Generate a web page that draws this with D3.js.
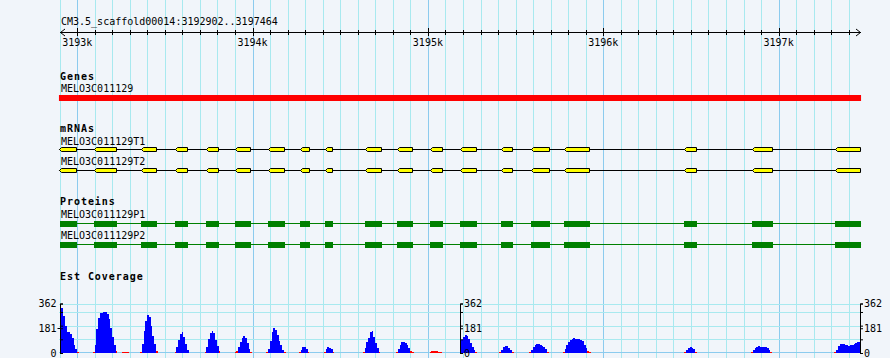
<!DOCTYPE html>
<html><head><meta charset="utf-8">
<script src="https://cdn.jsdelivr.net/npm/d3@7"></script>
<style>
html,body{margin:0;padding:0;background:#f1f5fa;}
svg{display:block;}
text{font-family:"DejaVu Sans Mono",monospace;font-size:10px;fill:#000;}
.bold{font-weight:bold;letter-spacing:0.95px;}
</style></head><body>
<svg id="c" width="890" height="358"></svg>
<script>
// ---------- data ----------
const seqName = "CM3.5_scaffold00014";
const regionStart = 3192902, regionEnd = 3197464;
const gridStart = 3192900, gridStep = 100;
const rulerMajor = [3193000, 3194000, 3195000, 3196000, 3197000];
const rulerLabels = ["3193k", "3194k", "3195k", "3196k", "3197k"];
const trackNames = ["Genes", "mRNAs", "Proteins", "Est Coverage"];
const geneName = "MELO3C011129";
const geneSpan = [3192896, 3197470];
const mrnaNames = ["MELO3C011129T1", "MELO3C011129T2"];
const proteinNames = ["MELO3C011129P1", "MELO3C011129P2"];
const exonStarts = [3192896, 3193095, 3193362, 3193556, 3193733, 3193899, 3194088, 3194269, 3194411, 3194639,
                    3194826, 3195010, 3195181, 3195415, 3195588, 3195775, 3196458, 3196846, 3197319];
const exonEnds   = [3192998, 3193225, 3193453, 3193631, 3193807, 3193990, 3194183, 3194327, 3194458, 3194737,
                    3194914, 3195085, 3195279, 3195485, 3195695, 3195924, 3196534, 3196967, 3197470];
// EST coverage: each run starts at a position and has one value per 10 bp
const covStep = 10;
const covStarts = [3192902, 3193092, 3193261, 3193362, 3193558, 3193729, 3193900, 3194081, 3194267, 3194409,
                   3194632, 3194822, 3195012, 3195183, 3195411, 3195582, 3195772, 3196466, 3196846, 3197321];
const covValues = [
  [355,330,268,195,155,157,142,112,62,28,8],
  [10,60,172,258,290,296,300,298,285,250,185,120,60,12],
  [6,8,8,6],
  [10,68,160,237,276,265,200,125,65,15],
  [5,45,95,140,152,120,65,20],
  [5,45,100,145,163,145,95,50,15],
  [5,18,42,80,110,126,110,75,30,8],
  [5,30,90,150,180,170,135,90,55,25,8],
  [5,25,42,42,28,6],
  [5,30,42,40,30,6],
  [5,40,78,110,150,160,115,70,35,10],
  [5,30,60,78,84,74,55,35,18,5],
  [6,12,16,18,16,10,4],
  [60,95,120,128,122,100,75,45,22,6],
  [5,25,45,54,50,38,22,6],
  [5,22,45,60,66,65,60,52,42,28,8],
  [5,28,55,80,95,104,108,106,100,100,96,85,62,38,18,6],
  [5,22,36,42,40,28,6],
  [5,22,38,46,49,47,44,44,42,38,22,6],
  [5,25,48,64,66,64,58,55,54,55,58,64,72,82,84]
];
const covMax = 362;
const covPivot = 20;
const covLabelTicks = [0, 181, 362];
const covMinorTicks = [100, 200, 300];

// ---------- drawing ----------
const svg = d3.select("#c");
const x = d3.scaleLinear().domain([regionStart, regionEnd]).range([60, 860]);
const px = v => Math.round(x(v)) + 0.5;

// vertical grid
const gridPos = d3.range(gridStart, regionEnd + 1, gridStep);
svg.append("g").selectAll("line").data(gridPos).join("line")
  .attr("x1", px).attr("x2", px).attr("y1", 0).attr("y2", 358)
  .attr("stroke", d => d % 1000 === 0 ? "#8ccbee" : "#a8e9ef").attr("stroke-width", 1);

// title
svg.append("text").attr("x", 61).attr("y", 25).text(`${seqName}:${regionStart}..${regionEnd}`);

// ruler
const r = svg.append("g");
const ry = 32.5;
r.append("line").attr("x1", 60).attr("x2", 861).attr("y1", ry).attr("y2", ry).attr("stroke", "#000");
r.append("path").attr("d", `M65,29L60.5,${ry}L65,36`).attr("fill", "none").attr("stroke", "#000");
r.append("path").attr("d", `M856,29L860.5,${ry}L856,36`).attr("fill", "none").attr("stroke", "#000");
r.selectAll("line.minor").data(gridPos.filter(d => d >= regionStart)).join("line").attr("class", "minor")
  .attr("x1", px).attr("x2", px)
  .attr("y1", d => d % 1000 === 0 ? 28 : 30).attr("y2", d => d % 1000 === 0 ? 36 : 35)
  .attr("stroke", "#000");
r.selectAll("text").data(rulerMajor).join("text")
  .attr("x", d => x(d)).attr("y", 45.5).attr("text-anchor", "middle")
  .text((d, i) => rulerLabels[i]);

// Genes track
svg.append("text").attr("class", "bold").attr("x", 60).attr("y", 79.5).text(trackNames[0]);
svg.append("text").attr("x", 61).attr("y", 92).text(geneName);
svg.append("rect").attr("x", x(geneSpan[0])).attr("y", 95)
  .attr("width", x(geneSpan[1]) - x(geneSpan[0])).attr("height", 6).attr("fill", "#ff0000");

// mRNAs track
svg.append("text").attr("class", "bold").attr("x", 60).attr("y", 132).text(trackNames[1]);
const exons = exonStarts.map((s, i) => ({s, e: exonEnds[i]}));
mrnaNames.forEach((name, k) => {
  const cy = 149.5 + k * 21;
  svg.append("text").attr("x", 61).attr("y", 144.5 + k * 20.5).text(name);
  svg.append("line").attr("x1", x(exonStarts[0])).attr("x2", x(exonEnds[exonEnds.length - 1]))
    .attr("y1", cy).attr("y2", cy).attr("stroke", "#000");
  svg.append("g").selectAll("path").data(exons).join("path")
    .attr("d", d => {
      const x0 = Math.round(x(d.s)) + 0.5, x1 = Math.round(x(d.e)) - 0.5;
      const t = cy - 2, b = cy + 2;
      return `M${x0},${cy}L${x0 + 2},${t}L${x1},${t}L${x1},${b}L${x0 + 2},${b}Z`;
    })
    .attr("fill", "#ffff00").attr("stroke", "#000").attr("stroke-width", 1);
});

// Proteins track
svg.append("text").attr("class", "bold").attr("x", 60).attr("y", 205).text(trackNames[2]);
proteinNames.forEach((name, k) => {
  const top = 221 + k * 21;
  svg.append("text").attr("x", 61).attr("y", 218 + k * 20.5).text(name);
  svg.append("line").attr("x1", 60).attr("x2", x(exonEnds[exonEnds.length - 1]))
    .attr("y1", top + 2.5).attr("y2", top + 2.5).attr("stroke", "#008000");
  svg.append("g").selectAll("rect").data(exons).join("rect")
    .attr("x", d => Math.max(60, Math.round(x(d.s)))).attr("y", top)
    .attr("width", d => Math.round(x(d.e)) - Math.max(60, Math.round(x(d.s))))
    .attr("height", 6).attr("fill", "#008000");
});

// Est Coverage track
svg.append("text").attr("class", "bold").attr("x", 60).attr("y", 280).text(trackNames[3]);
const y = d3.scaleLinear().domain([0, covMax]).range([353, 303.5]);
const hg = svg.append("g");
hg.selectAll("line").data([100, 200, 300, 362]).join("line")
  .attr("x1", 59).attr("x2", 861).attr("y1", d => Math.round(y(d)) + 0.5).attr("y2", d => Math.round(y(d)) + 0.5)
  .attr("stroke", "#a8e9ef");
hg.append("line").attr("x1", 59).attr("x2", 861).attr("y1", 352.5).attr("y2", 352.5).attr("stroke", "#8ccbee");

const xc = p => Math.min(861, Math.floor(x(p)));
const yc = v => Math.round(y(v));
const area = d3.area().curve(d3.curveStepAfter)
  .x(d => xc(d.p)).y0(yc(0)).y1(d => yc(d.v));
const runs = covStarts.map((s, i) => {
  const pts = covValues[i].map((v, j) => ({p: s + j * covStep, v}));
  pts.push({p: s + covValues[i].length * covStep, v: covValues[i][covValues[i].length - 1]});
  return pts;
});
const cg = svg.append("g").attr("shape-rendering", "crispEdges");
cg.selectAll("path").data(runs).join("path").attr("d", area).attr("fill", "#0000ff");
const lowBars = [];
covStarts.forEach((s, i) => covValues[i].forEach((v, j) => { if (v < covPivot) lowBars.push({p: s + j * covStep, v}); }));
cg.selectAll("rect").data(lowBars).join("rect")
  .attr("x", d => xc(d.p))
  .attr("width", d => Math.max(1, xc(d.p + covStep) - xc(d.p)))
  .attr("y", d => yc(d.v)).attr("height", d => yc(0) - yc(d.v))
  .attr("fill", "#ff0000");

// three side scales
[{ax: 60.5, side: "left"}, {ax: 460.5, side: "right"}, {ax: 860.5, side: "right"}].forEach(a => {
  const axis = d3.axisRight(y).tickValues(covLabelTicks.concat(covMinorTicks)).tickSize(3).tickSizeOuter(3).tickFormat("");
  const g = svg.append("g").attr("transform", `translate(${a.ax - 0.5},0)`).call(axis);
  g.select(".domain").attr("stroke", "#000");
  g.selectAll(".tick line").attr("stroke", "#000");
  const lab = svg.append("g");
  lab.selectAll("text").data(covLabelTicks).join("text")
    .attr("x", a.side === "left" ? a.ax - 4 : a.ax + 3.5)
    .attr("y", d => y(d) + 3.5)
    .attr("text-anchor", a.side === "left" ? "end" : "start")
    .text(d => d);
  if (a.side === "left") {
    lab.selectAll("line").data([181]).join("line")
      .attr("x1", a.ax - 3).attr("x2", a.ax).attr("y1", d => Math.round(y(d)) + 0.5).attr("y2", d => Math.round(y(d)) + 0.5)
      .attr("stroke", "#000");
  }
});
</script>
</body></html>
